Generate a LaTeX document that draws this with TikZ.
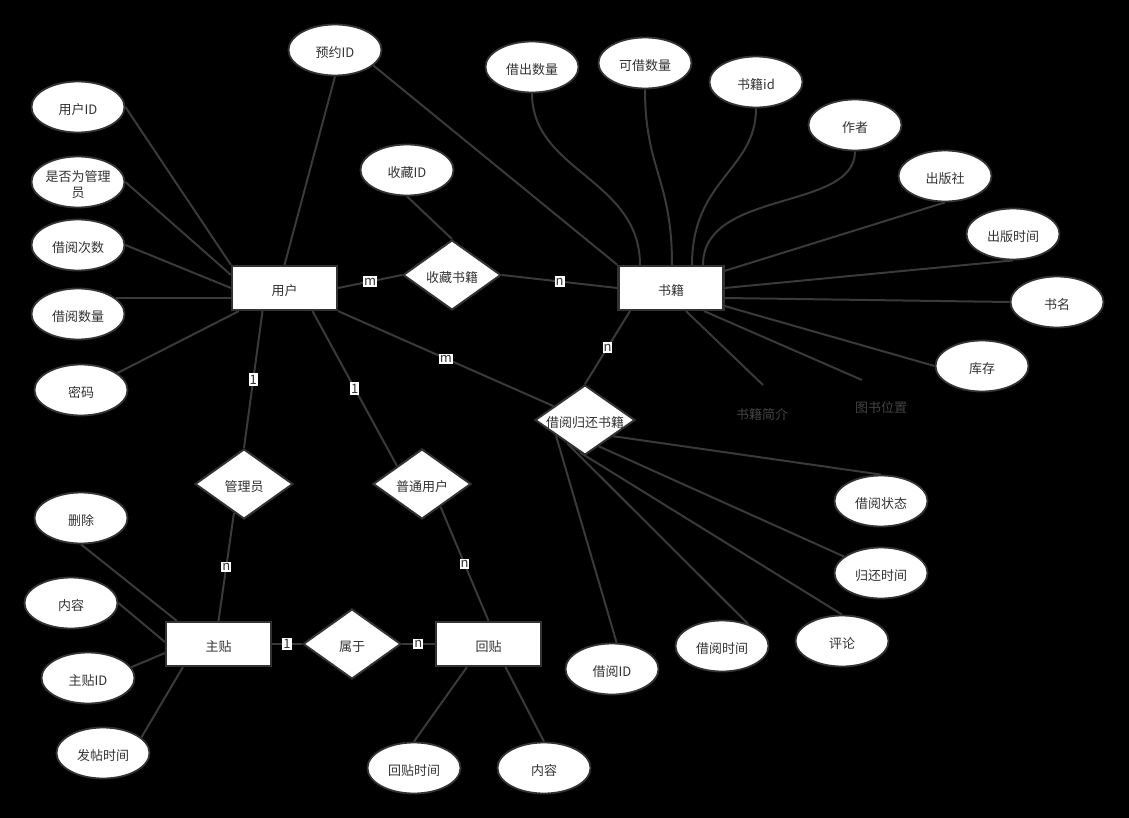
\documentclass[tikz,border=0pt]{standalone}
\usepackage{fontspec}
\setmainfont{Noto Sans CJK SC}
\usetikzlibrary{shapes.geometric,calc,backgrounds}
\definecolor{ln}{HTML}{3A3A3A}
\definecolor{bd}{HTML}{333333}
\definecolor{tx}{HTML}{333333}
\definecolor{ftx}{HTML}{444444}
\begin{document}
\begin{tikzpicture}[x=1pt,y=-1pt,
  every node/.style={font=\fontsize{13}{16}\selectfont, text=tx},
  lowtext/.style={text height=15pt, text depth=0.2pt},
  attr/.style={ellipse, draw=bd, fill=white, line width=1.8pt, minimum width=93pt, minimum height=51pt, inner sep=0pt, lowtext},
  ent/.style={rectangle, draw=bd, fill=white, line width=2.2pt, minimum width=105pt, minimum height=44pt, inner sep=0pt, lowtext},
  rel/.style={diamond, draw=bd, fill=white, line width=2pt, aspect=1.45, inner sep=0pt, minimum width=98pt, minimum height=70pt, lowtext},
  conn/.style={draw=ln, line width=2pt},
  card/.style={fill=white, inner xsep=1pt, inner ysep=1.5pt, font=\fontsize{13}{13}\selectfont, text=tx},
  freetext/.style={text=ftx, lowtext}
]
\useasboundingbox (0,0) rectangle (1129,818);
% attributes
\node[attr] (yy) at (335,50) {预约ID};
\node[attr] (uid) at (78,107) {用户ID};
\node[attr, align=center, text height=31pt, text depth=0.2pt] (isadm) at (78,182) {是否为管理\\员};
\node[attr] (jycs) at (78,245) {借阅次数};
\node[attr] (jysl) at (78,314) {借阅数量};
\node[attr] (mm) at (81,390) {密码};
\node[attr] (scid) at (407,170) {收藏ID};
\node[attr] (jcsl) at (532,67) {借出数量};
\node[attr] (kjsl) at (645,63) {可借数量};
\node[attr] (sjid) at (756,82) {书籍id};
\node[attr] (zz) at (855,125) {作者};
\node[attr] (cbs) at (945,176) {出版社};
\node[attr] (cbsj) at (1013,234) {出版时间};
\node[attr] (sm) at (1057,302) {书名};
\node[attr] (kc) at (982,366) {库存};
\node[attr] (jyzt) at (881,501) {借阅状态};
\node[attr] (ghsj) at (881,573) {归还时间};
\node[attr] (pl) at (842,641) {评论};
\node[attr] (jysj) at (722,646) {借阅时间};
\node[attr] (jyid) at (612,669) {借阅ID};
\node[attr] (del) at (81,518) {删除};
\node[attr] (nr1) at (71,603) {内容};
\node[attr] (ztid) at (88,678) {主贴ID};
\node[attr] (ftsj) at (103,753) {发帖时间};
\node[attr] (htsj) at (414,768) {回贴时间};
\node[attr] (nr2) at (544,768) {内容};
% entities
\node[ent] (user) at (284.5,288) {用户};
\node[ent] (book) at (671,288) {书籍};
\node[ent] (zt) at (218.5,644) {主贴};
\node[ent] (ht) at (488.5,644) {回贴};
% relations
\node[rel] (scsj) at (452,275) {收藏书籍};
\node[rel] (jh) at (585,420) {借阅归还书籍};
\node[rel] (gly) at (244,484) {管理员};
\node[rel] (pt) at (422,484) {普通用户};
\node[rel] (sy) at (352,644) {属于};
% free texts
\node[freetext] (jj) at (762,412) {书籍简介};
\node[freetext] (wz) at (881,405) {图书位置};
\coordinate (jjend) at (763,385);
\coordinate (wzend) at (862,380);

\begin{scope}[on background layer]
\fill[black] (0,0) rectangle (1129,818);
% user attributes
\draw[conn] (uid.east) -- (user.north west);
\draw[conn] (isadm.east) -- ($(user.north west)+(0,10)$);
\draw[conn] (jycs.east) -- (user.west);
\draw[conn] (jysl.22) -- (jysl.22 -| user.west);
\draw[conn] (mm.25) -- ($(user.south west)+(8,0)$);
\draw[conn] (yy.south) -- (user.north);
\draw[conn] (yy.-22) -- (book.north west);
\draw[conn] (scid.south) -- (scsj.north);
% relationships
\draw[conn] (user.east) -- node[card, midway]{m} (scsj.west);
\draw[conn] (scsj.east) -- node[card, midway]{n} (book.west);
\draw[conn] (user.south east) -- node[card, midway]{m} (jh);
\draw[conn] ($(book.south)+(-41,0)$) -- node[card, midway]{n} (jh.north);
\draw[conn] ($(user.south)+(-22,0)$) -- node[card, midway]{1} (gly.north);
\draw[conn] ($(user.south)+(28,0)$) -- node[card, midway]{1} ($(pt.north)!0.5!(pt.west)$);
\draw[conn] ($(gly.south)!0.2!(gly.west)$) -- node[card, midway]{n} (zt.north);
\draw[conn] ($(pt.south)!0.37!(pt.east)$) -- node[card, midway]{n} (ht.north);
\draw[conn] (zt.east) -- node[card, midway]{1} (sy.west);
\draw[conn] (sy.east) -- node[card, midway]{n} (ht.west);
% post attributes
\draw[conn] (del.south) -- ($(zt.north west)+(12,0)$);
\draw[conn] (nr1.east) -- ($(zt.west)+(0,-2)$);
\draw[conn] (ztid.14) -- ($(zt.west)+(0,9)$);
\draw[conn] (ftsj.22) -- ($(zt.south west)+(18,0)$);
\draw[conn] (htsj.north) -- ($(ht.south west)+(32,0)$);
\draw[conn] (nr2.north) -- ($(ht.south)+(17,0)$);
% book attributes
\draw[conn] (jcsl.south) .. controls +(0,78) and +(0,-86) .. ($(book.north)+(-31,0)$);
\draw[conn] (kjsl.south) .. controls +(0,80) and +(0,-86) .. ($(book.north)+(1,0)$);
\draw[conn] (sjid.south) .. controls +(0,62) and +(0,-86) .. ($(book.north)+(21,0)$);
\draw[conn] (zz.south) .. controls +(0,60) and +(0,-76) .. ($(book.north)+(32,0)$);
\draw[conn] (cbs.south) -- ($(book.north east)+(0,6)$);
\draw[conn] (cbsj.south) -- (book.east);
\draw[conn] (sm.west) -- ($(book.east)+(0,10)$);
\draw[conn] (kc.west) -- ($(book.east)+(0,18)$);
\draw[conn] ($(book.south)+(15,0)$) -- (jjend);
\draw[conn] ($(book.south)+(33,0)$) -- (wzend);
% borrow attributes
\draw[conn] ($(jh.east)!0.45!(jh.south)$) -- (jyzt.north);
\draw[conn] ($(jh.east)!0.73!(jh.south)$) -- (ghsj.156);
\draw[conn] ($(jh.west)!0.9!(jh.south)$) -- (pl.north);
\draw[conn] ($(jh.west)!0.65!(jh.south)$) -- (jysj.40);
\draw[conn] ($(jh.west)!0.43!(jh.south)$) -- (jyid.80);
\end{scope}
\end{tikzpicture}
\end{document}
